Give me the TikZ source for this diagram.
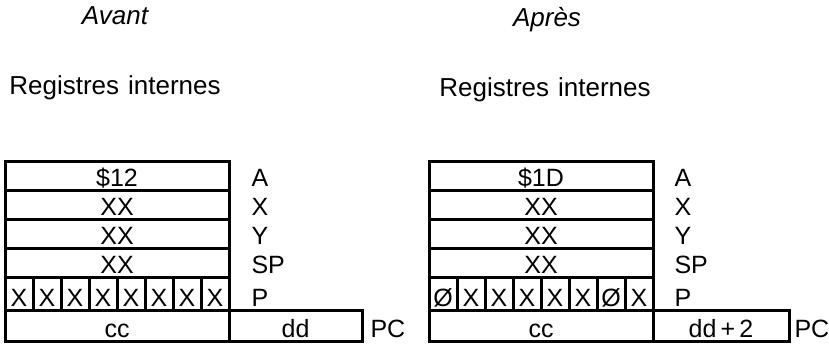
\documentclass[tikz,border=0pt]{standalone}
\usepackage{fontspec}
\setmainfont{Liberation Sans}
\begin{document}
\begin{tikzpicture}[x=1pt,y=-1pt,line width=3pt,
  txt/.style={font=\fontsize{25}{25}\selectfont,inner sep=0pt,anchor=base},
  lbl/.style={txt,anchor=base west},
  ttl/.style={font=\fontsize{26}{26}\selectfont,inner sep=0pt,anchor=base}]
\useasboundingbox (0,0) rectangle (829,344);
\node[ttl,font=\fontsize{26}{26}\selectfont\itshape](avant)at(115,25){Avant};
\node[ttl](regav)at(115,95){Registres\hskip9pt internes};
\node[ttl,font=\fontsize{26}{26}\selectfont\itshape](apres)at(547,27){Après};
\node[ttl](regap)at(545,97){Registres\hskip9pt internes};
% registres, avant
\draw(5,162)rectangle(229,341);
\foreach \y in {191,220,249,278,310}{\draw(5,\y)--(229,\y);}
\foreach \i in {1,...,7}{\draw(5+28*\i,278)--(5+28*\i,310);}
\draw(229,310)--(362,310)--(362,341)--(229,341);
\foreach \v/\r/\y [count=\k] in {\$12/A/186.5,XX/X/216,XX/Y/245,XX/SP/273.5}{
  \node[txt](av\k)at(117,\y){\v};\node[lbl](nav\k)at(250,\y){\r};}
\foreach \i in {0,...,7}{\node[txt](pav\i)at(19+28*\i,306.5){X};}
\node[lbl](navp)at(250,306.5){P};
\node[txt](ccav)at(117,337){cc};
\node[txt](ddav)at(295.5,337){dd};
\node[lbl](pcav)at(369,337){PC};
% registres, apres
\draw(429,162)rectangle(653,341);
\foreach \y in {191,220,249,278,310}{\draw(429,\y)--(653,\y);}
\foreach \i in {1,...,7}{\draw(429+28*\i,278)--(429+28*\i,310);}
\draw(653,310)--(789,310)--(789,341)--(653,341);
\foreach \v/\r/\y [count=\k] in {\$1D/A/186.5,XX/X/216,XX/Y/245,XX/SP/273.5}{
  \node[txt](ap\k)at(541,\y){\v};\node[lbl](nap\k)at(673,\y){\r};}
\foreach \v [count=\i from 0] in {Ø,X,X,X,X,X,Ø,X}{\node[txt](pap\i)at(443+28*\i,306.5){\v};}
\node[lbl](napp)at(673,306.5){P};
\node[txt](ccap)at(541,337){cc};
\node[txt](ddap)at(721,337){dd\,+\,2};
\node[lbl](pcap)at(793,337){PC};
\end{tikzpicture}
\end{document}
